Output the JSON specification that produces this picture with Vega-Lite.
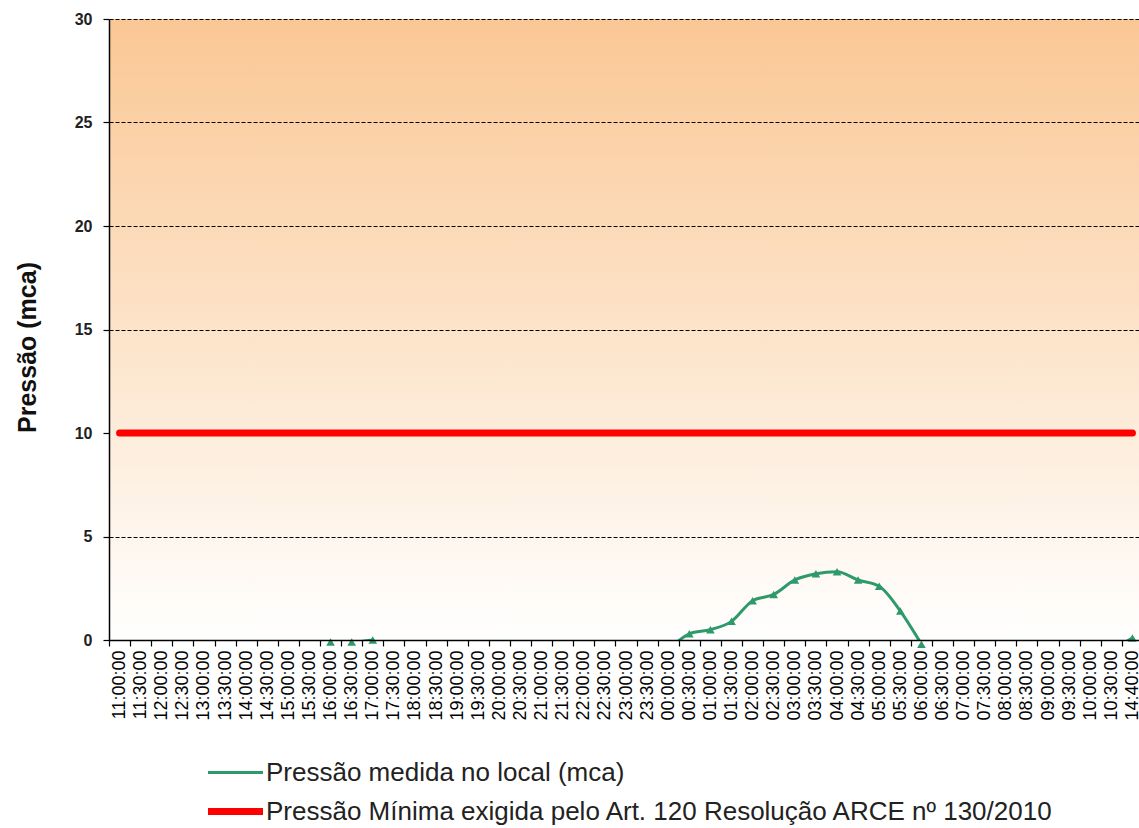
{
  "$schema": "https://vega.github.io/schema/vega-lite/v6.json",
  "width": 1030,
  "height": 621,
  "autosize": {"type": "none"},
  "padding": {"left": 109, "top": 19, "right": 0, "bottom": 188},
  "background": "white",
  "config": {
    "view": {"stroke": null},
    "font": "Liberation Sans",
    "axis": {"domainColor": "#000000", "tickColor": "#000000", "domainWidth": 1.5, "tickWidth": 1.2, "tickSize": 6}
  },
  "data": {
    "values": [
      {"hora": "11:00:00", "medida": null, "minima": 10},
      {"hora": "11:30:00", "medida": null, "minima": 10},
      {"hora": "12:00:00", "medida": null, "minima": 10},
      {"hora": "12:30:00", "medida": null, "minima": 10},
      {"hora": "13:00:00", "medida": null, "minima": 10},
      {"hora": "13:30:00", "medida": null, "minima": 10},
      {"hora": "14:00:00", "medida": null, "minima": 10},
      {"hora": "14:30:00", "medida": null, "minima": 10},
      {"hora": "15:00:00", "medida": null, "minima": 10},
      {"hora": "15:30:00", "medida": -0.3, "minima": 10},
      {"hora": "16:00:00", "medida": -0.1, "minima": 10},
      {"hora": "16:30:00", "medida": -0.1, "minima": 10},
      {"hora": "17:00:00", "medida": 0.0, "minima": 10},
      {"hora": "17:30:00", "medida": null, "minima": 10},
      {"hora": "18:00:00", "medida": null, "minima": 10},
      {"hora": "18:30:00", "medida": null, "minima": 10},
      {"hora": "19:00:00", "medida": null, "minima": 10},
      {"hora": "19:30:00", "medida": null, "minima": 10},
      {"hora": "20:00:00", "medida": null, "minima": 10},
      {"hora": "20:30:00", "medida": null, "minima": 10},
      {"hora": "21:00:00", "medida": null, "minima": 10},
      {"hora": "21:30:00", "medida": null, "minima": 10},
      {"hora": "22:00:00", "medida": null, "minima": 10},
      {"hora": "22:30:00", "medida": null, "minima": 10},
      {"hora": "23:00:00", "medida": null, "minima": 10},
      {"hora": "23:30:00", "medida": null, "minima": 10},
      {"hora": "00:00:00", "medida": -0.5, "minima": 10},
      {"hora": "00:30:00", "medida": 0.3, "minima": 10},
      {"hora": "01:00:00", "medida": 0.5, "minima": 10},
      {"hora": "01:30:00", "medida": 0.9, "minima": 10},
      {"hora": "02:00:00", "medida": 1.9, "minima": 10},
      {"hora": "02:30:00", "medida": 2.2, "minima": 10},
      {"hora": "03:00:00", "medida": 2.9, "minima": 10},
      {"hora": "03:30:00", "medida": 3.2, "minima": 10},
      {"hora": "04:00:00", "medida": 3.3, "minima": 10},
      {"hora": "04:30:00", "medida": 2.9, "minima": 10},
      {"hora": "05:00:00", "medida": 2.6, "minima": 10},
      {"hora": "05:30:00", "medida": 1.4, "minima": 10},
      {"hora": "06:00:00", "medida": -0.2, "minima": 10},
      {"hora": "06:30:00", "medida": null, "minima": 10},
      {"hora": "07:00:00", "medida": null, "minima": 10},
      {"hora": "07:30:00", "medida": null, "minima": 10},
      {"hora": "08:00:00", "medida": null, "minima": 10},
      {"hora": "08:30:00", "medida": null, "minima": 10},
      {"hora": "09:00:00", "medida": null, "minima": 10},
      {"hora": "09:30:00", "medida": null, "minima": 10},
      {"hora": "10:00:00", "medida": null, "minima": 10},
      {"hora": "10:30:00", "medida": -0.5, "minima": 10},
      {"hora": "14:40:00", "medida": 0.1, "minima": 10}
    ]
  },
  "encoding": {
    "x": {
      "field": "hora", "type": "ordinal", "sort": null, "bandPosition": 0.5,
      "scale": {"type": "band", "paddingInner": 0, "paddingOuter": 0, "range": [0, 1034]},
      "axis": {
        "title": null, "labelAngle": 270, "labelFontSize": 18, "labelColor": "#000000",
        "labelPadding": 4, "tickBand": "extent", "grid": false, "labelOverlap": false, "zindex": 1
      }
    }
  },
  "layer": [
    {
      "mark": {
        "type": "rect",
        "color": {"gradient": "linear", "x1": 0, "y1": 0, "x2": 0, "y2": 1,
          "stops": [{"offset": 0, "color": "#FAC794"}, {"offset": 1, "color": "#FFFFFF"}]}
      },
      "encoding": {
        "x": {"value": 0},
        "x2": {"value": 1030},
        "y": {"datum": 30, "type": "quantitative", "scale": {"domain": [0, 30], "nice": false, "zero": false},
          "axis": {
            "title": "Pressão (mca)", "values": [0, 5, 10, 15, 20, 25, 30],
            "labelFontSize": 16, "labelFontWeight": "bold", "labelColor": "#222222", "labelPadding": 11,
            "titleFontSize": 25, "titleFontWeight": "bold", "titleColor": "#111111",
            "titleX": -69, "titleY": 328, "titleAlign": "center", "titleBaseline": "bottom", "titleAngle": 270,
            "grid": true, "gridColor": "#000000", "gridDash": [4, 2], "gridWidth": 1, "zindex": 1,
            "gridOpacity": {"condition": {"test": "datum.value === 10", "value": 0}, "value": 1}
          }},
        "y2": {"datum": 0}
      }
    },
    {
      "mark": {"type": "line", "interpolate": "monotone", "clip": true},
      "encoding": {
        "y": {"field": "medida", "type": "quantitative"},
        "color": {
          "datum": "Pressão medida no local (mca)", "type": "nominal",
          "scale": {
            "domain": ["Pressão medida no local (mca)", "Pressão Mínima exigida pelo Art. 120 Resolução ARCE nº 130/2010"],
            "range": ["#2E9A6A", "#FF0000"]
          },
          "legend": {
            "title": null, "orient": "none", "legendX": 109, "legendY": 738, "direction": "vertical",
            "symbolType": "M-2,0H2", "symbolSize": 756, "labelFontSize": 26, "labelColor": "#222222",
            "labelLimit": 0, "labelOffset": 13, "rowPadding": 8
          }
        },
        "strokeWidth": {
          "datum": "Pressão medida no local (mca)", "type": "nominal",
          "scale": {
            "domain": ["Pressão medida no local (mca)", "Pressão Mínima exigida pelo Art. 120 Resolução ARCE nº 130/2010"],
            "range": [3, 7]
          },
          "legend": {
            "title": null, "orient": "none", "legendX": 109, "legendY": 738, "direction": "vertical",
            "symbolType": "M-2,0H2", "symbolSize": 756, "labelFontSize": 26, "labelColor": "#222222",
            "labelLimit": 0, "labelOffset": 13, "rowPadding": 8
          }
        }
      }
    },
    {
      "transform": [{"filter": "datum.medida != null && datum.medida >= -0.25"}],
      "mark": {"type": "point", "shape": "triangle-up", "filled": true, "size": 75, "color": "#2E9A6A", "opacity": 1},
      "encoding": {
        "y": {"field": "medida", "type": "quantitative"}
      }
    },
    {
      "mark": {"type": "line", "strokeCap": "round"},
      "encoding": {
        "y": {"field": "minima", "type": "quantitative"},
        "color": {"datum": "Pressão Mínima exigida pelo Art. 120 Resolução ARCE nº 130/2010", "type": "nominal"},
        "strokeWidth": {"datum": "Pressão Mínima exigida pelo Art. 120 Resolução ARCE nº 130/2010", "type": "nominal"}
      }
    }
  ]
}
